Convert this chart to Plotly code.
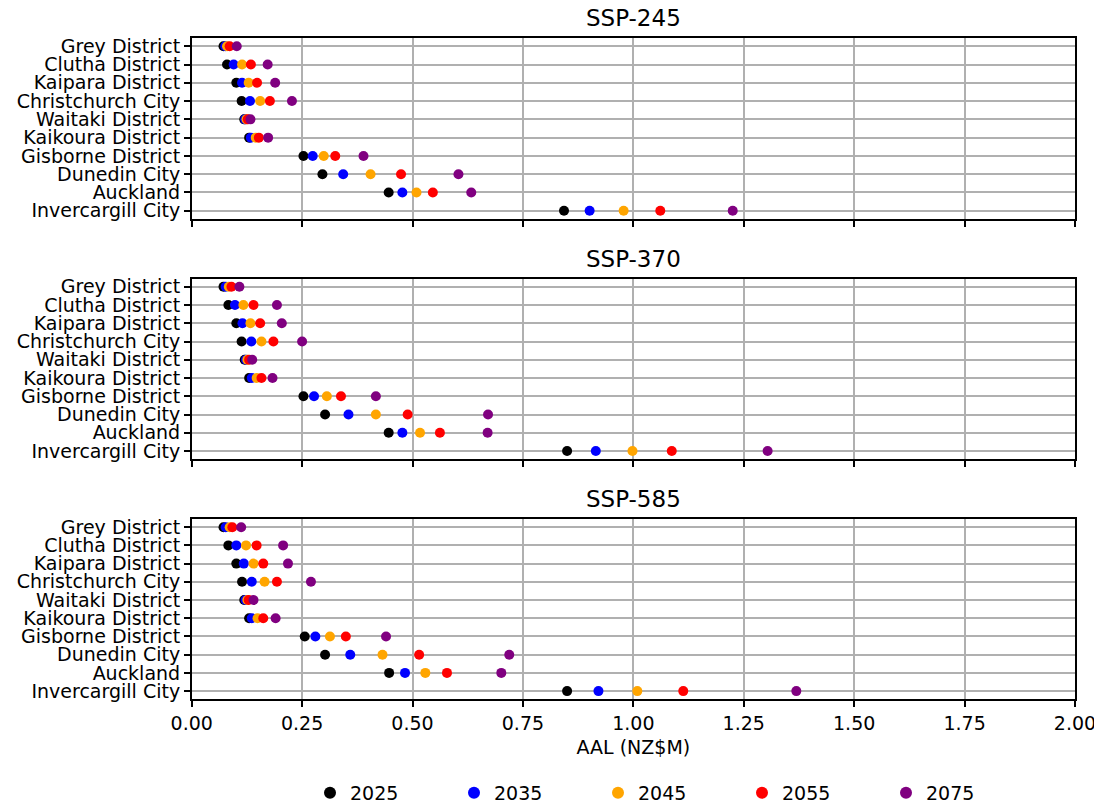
import plotly.graph_objects as go

regions = ["Grey District", "Clutha District", "Kaipara District", "Christchurch City",
           "Waitaki District", "Kaikoura District", "Gisborne District", "Dunedin City",
           "Auckland", "Invercargill City"]
years = ["2025", "2035", "2045", "2055", "2075"]
colors = ["black", "#0000ff", "#ffa500", "#ff0000", "#800080"]
scenarios = ["SSP-245", "SSP-370", "SSP-585"]

ssp245_2025 = [0.072, 0.080, 0.101, 0.113, 0.119, 0.130, 0.253, 0.296, 0.446, 0.843]
ssp245_2035 = [0.076, 0.095, 0.114, 0.132, 0.121, 0.134, 0.274, 0.343, 0.477, 0.901]
ssp245_2045 = [0.080, 0.114, 0.129, 0.155, 0.124, 0.145, 0.299, 0.405, 0.509, 0.978]
ssp245_2055 = [0.086, 0.134, 0.148, 0.177, 0.127, 0.152, 0.325, 0.474, 0.546, 1.061]
ssp245_2075 = [0.102, 0.172, 0.189, 0.227, 0.133, 0.173, 0.389, 0.604, 0.633, 1.225]

ssp370_2025 = [0.072, 0.083, 0.101, 0.113, 0.120, 0.130, 0.253, 0.302, 0.446, 0.850]
ssp370_2035 = [0.077, 0.098, 0.115, 0.135, 0.123, 0.136, 0.277, 0.355, 0.477, 0.915]
ssp370_2045 = [0.084, 0.117, 0.133, 0.158, 0.126, 0.147, 0.306, 0.417, 0.517, 0.998]
ssp370_2055 = [0.090, 0.140, 0.155, 0.185, 0.130, 0.158, 0.338, 0.489, 0.562, 1.087]
ssp370_2075 = [0.108, 0.193, 0.204, 0.250, 0.137, 0.183, 0.417, 0.671, 0.670, 1.304]

ssp585_2025 = [0.072, 0.083, 0.101, 0.114, 0.119, 0.130, 0.256, 0.302, 0.447, 0.850]
ssp585_2035 = [0.077, 0.101, 0.118, 0.136, 0.122, 0.136, 0.280, 0.359, 0.483, 0.921]
ssp585_2045 = [0.086, 0.123, 0.140, 0.165, 0.126, 0.149, 0.313, 0.432, 0.529, 1.009]
ssp585_2055 = [0.092, 0.147, 0.162, 0.193, 0.129, 0.162, 0.349, 0.515, 0.578, 1.113]
ssp585_2075 = [0.112, 0.207, 0.218, 0.270, 0.140, 0.190, 0.440, 0.719, 0.701, 1.369]

x_ticks = [0.0, 0.25, 0.5, 0.75, 1.0, 1.25, 1.5, 1.75, 2.0]
x_tick_labels = ["0.00", "0.25", "0.50", "0.75", "1.00", "1.25", "1.50", "1.75", "2.00"]

data = {
    "SSP-245": [ssp245_2025, ssp245_2035, ssp245_2045, ssp245_2055, ssp245_2075],
    "SSP-370": [ssp370_2025, ssp370_2035, ssp370_2045, ssp370_2055, ssp370_2075],
    "SSP-585": [ssp585_2025, ssp585_2035, ssp585_2045, ssp585_2055, ssp585_2075],
}

W, H = 1102, 803
OFF = 8  # page body margin offset
x_dom = [(191.7 - OFF) / W, (1075 - OFF) / W]
panels_px = [(38, 219), (278.5, 459.3), (519, 699.3)]
title_y_px = [18, 258.5, 499]

FONT = "DejaVu Sans"
FS = 19
fig = go.Figure()

layout = dict(
    width=W, height=H,
    margin=dict(l=0, r=0, t=0, b=0, autoexpand=False),
    paper_bgcolor="white", plot_bgcolor="white",
    font=dict(family=FONT, size=FS, color="black"),
    showlegend=True,
    legend=dict(orientation="h", x=(330 - 20 - OFF) / W, xanchor="left",
                y=1 - (793 - OFF) / H, yanchor="middle",
                entrywidth=99, entrywidthmode="pixels", font=dict(size=FS),
                itemsizing="constant", bgcolor="rgba(0,0,0,0)", borderwidth=0),
)

annotations = []
for i, sc in enumerate(scenarios):
    n = i + 1
    xa = "x" if n == 1 else f"x{n}"
    ya = "y" if n == 1 else f"y{n}"
    for j, yr in enumerate(years):
        fig.add_trace(go.Scatter(
            x=data[sc][j], y=regions, mode="markers",
            marker=dict(color=colors[j], size=10, line=dict(width=0)),
            name=yr, legendgroup=yr, showlegend=(i == 0),
            xaxis=xa, yaxis=ya,
        ))
    top, bot = panels_px[i]
    xkey = "xaxis" if n == 1 else f"xaxis{n}"
    ykey = "yaxis" if n == 1 else f"yaxis{n}"
    layout[xkey] = dict(
        domain=x_dom, anchor=ya, range=[0, 2], autorange=False,
        tickmode="array", tickvals=x_ticks, ticktext=x_tick_labels,
        showticklabels=(n == 3), ticks="outside", ticklen=6, tickwidth=1.5, tickcolor="black",
        showgrid=True, gridcolor="#b0b0b0", gridwidth=1.5, zeroline=False,
        showline=True, linecolor="black", linewidth=1.5, mirror=True,
        tickfont=dict(size=FS),
    )
    if n == 3:
        layout[xkey]["title"] = dict(text="AAL (NZ$M)", font=dict(size=FS), standoff=8)
    layout[ykey] = dict(
        domain=[1 - (bot - OFF) / H, 1 - (top - OFF) / H], anchor=xa,
        type="category", categoryorder="array", categoryarray=regions,
        tickmode="array", tickvals=regions, ticktext=regions,
        range=[9.45, -0.45], autorange=False,
        ticks="outside", ticklen=6, tickwidth=1.5, tickcolor="black",
        showgrid=True, gridcolor="#b0b0b0", gridwidth=1.5, zeroline=False,
        showline=True, linecolor="black", linewidth=1.5, mirror=True,
        tickfont=dict(size=FS),
    )
    annotations.append(dict(
        text=sc, x=(x_dom[0] + x_dom[1]) / 2, y=1 - (title_y_px[i] - OFF) / H,
        xref="paper", yref="paper", xanchor="center", yanchor="middle",
        showarrow=False, font=dict(size=23, family=FONT, color="black"),
    ))

layout["annotations"] = annotations
fig.update_layout(**layout)
fig.write_html("out.html")
